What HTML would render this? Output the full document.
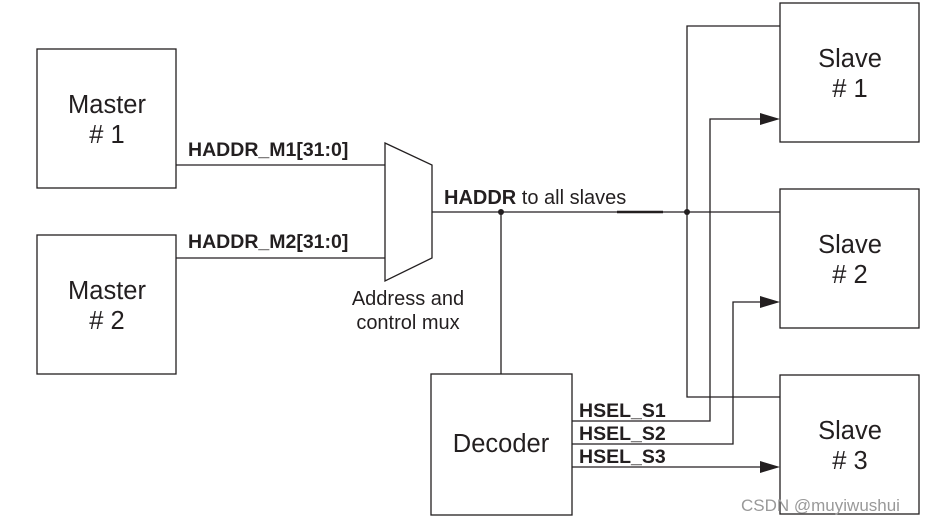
<!DOCTYPE html>
<html><head><meta charset="utf-8"><style>
html,body{margin:0;padding:0;background:#fff;}
svg{display:block;font-family:"Liberation Sans",Arial,sans-serif;}
</style></head><body>
<svg width="937" height="525" viewBox="0 0 937 525" xmlns="http://www.w3.org/2000/svg">
<g fill="none" stroke="#231f20" stroke-width="1.3">
<rect x="37" y="49" width="139" height="139"/>
<rect x="37" y="235" width="139" height="139"/>
<rect x="431" y="374" width="141" height="141"/>
<rect x="780" y="3" width="139" height="139"/>
<rect x="780" y="189" width="139" height="139"/>
<rect x="780" y="375" width="139" height="139"/>
<path d="M385,143 L432,165 L432,258 L385,281 Z"/>
<path d="M176,165 H385 M176,258 H385"/>
<path d="M432,212 H780"/>
<path d="M501,212 V374"/>
<path d="M780,26 H687 V397 H780"/>
<path d="M572,421 H710 V119 H765"/>
<path d="M572,444 H733 V302 H765"/>
<path d="M572,467 H765"/>
</g>
<path d="M617,212 H663" stroke="#231f20" stroke-width="2.5"/>
<circle cx="501" cy="212" r="3" fill="#231f20"/>
<circle cx="687" cy="212" r="3" fill="#231f20"/>
<path d="M760,113 L780,119 L760,125Z M760,296 L780,302 L760,308Z M760,461 L780,467 L760,473Z" fill="#231f20"/>
<g fill="#231f20" font-size="25.5" text-anchor="middle">
<text x="107" y="113">Master</text><text x="107" y="143"># 1</text>
<text x="107" y="299">Master</text><text x="107" y="329"># 2</text>
<text x="501" y="452">Decoder</text>
<text x="850" y="67">Slave</text><text x="850" y="97"># 1</text>
<text x="850" y="253">Slave</text><text x="850" y="283"># 2</text>
<text x="850" y="439">Slave</text><text x="850" y="469"># 3</text>
</g>
<g fill="#231f20" font-size="19.5" font-weight="bold">
<text x="188" y="156">HADDR_M1[31:0]</text>
<text x="188" y="248">HADDR_M2[31:0]</text>
<text x="444" y="204" font-size="20">HADDR<tspan font-weight="normal"> to all slaves</tspan></text>
<text x="579" y="417">HSEL_S1</text>
<text x="579" y="440">HSEL_S2</text>
<text x="579" y="463">HSEL_S3</text>
</g>
<g fill="#231f20" font-size="20" text-anchor="middle">
<text x="408" y="305">Address and</text>
<text x="408" y="329">control mux</text>
</g>
<text x="741" y="511" font-size="17" fill="#999">CSDN @muyiwushui</text>
</svg>
</body></html>
